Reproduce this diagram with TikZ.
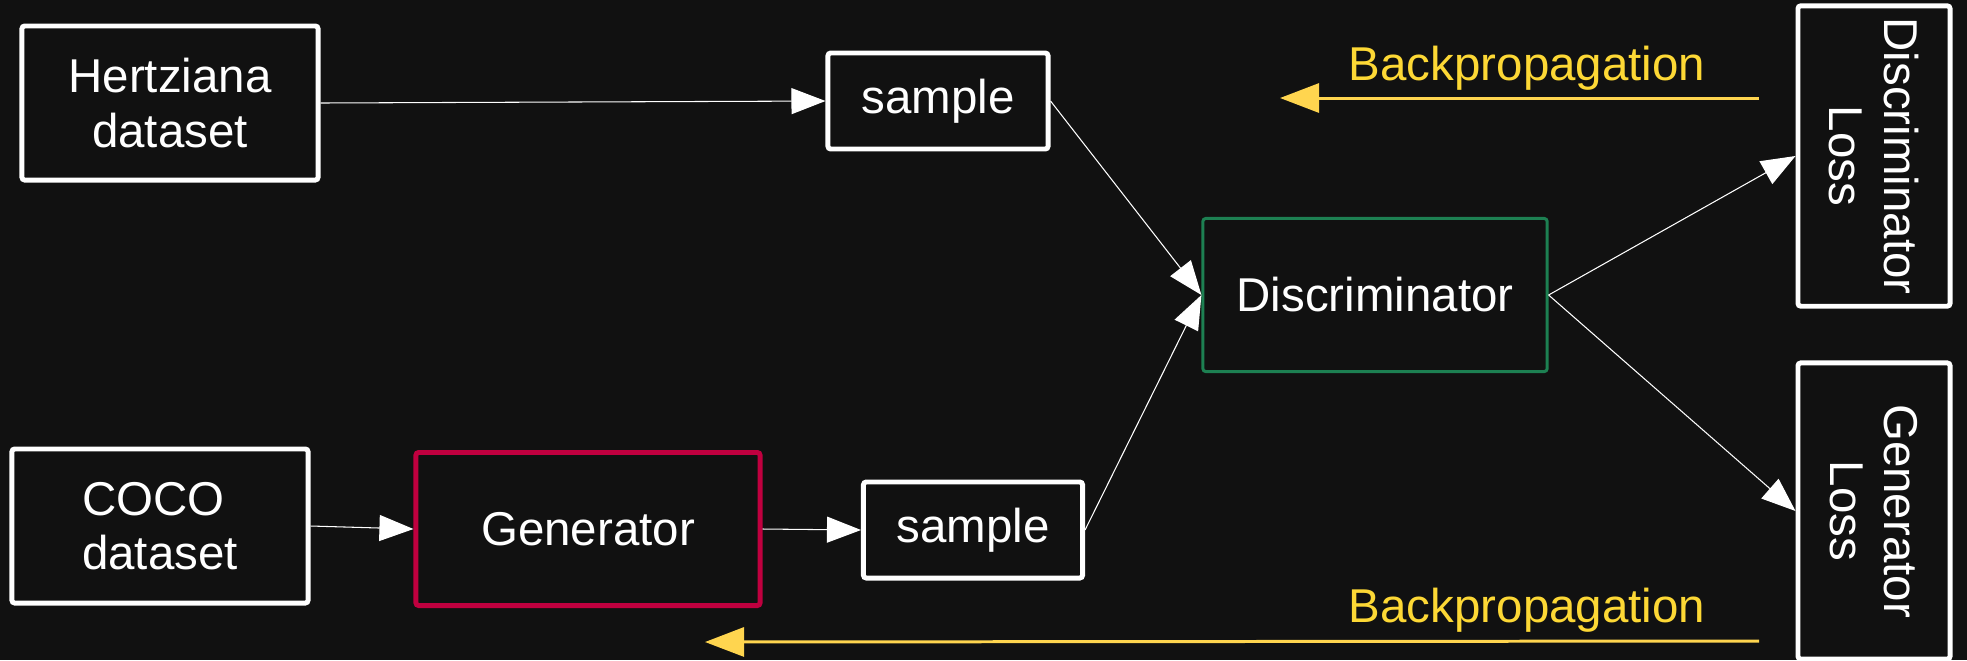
\documentclass[tikz,border=0pt]{standalone}
\usepackage{fontspec}
\setmainfont{Liberation Sans}
\usepackage{xcolor}
\usepackage{tikz}
\usetikzlibrary{arrows.meta}

\definecolor{bgdark}{HTML}{111111}
\definecolor{genred}{HTML}{C0003F}
\definecolor{discgreen}{HTML}{1D8052}
\definecolor{bpline}{HTML}{FFD54F}
\definecolor{bptext}{HTML}{FDD835}

\begin{document}
\begin{tikzpicture}[x=0.01cm,y=-0.01cm,
    font=\fontsize{13.5}{15.4}\selectfont,
    box/.style={draw=white,line width=1.4pt,rounded corners=0.8pt,text=white,align=center},
    flow/.style={white,line width=0.3pt,-{Triangle[length=0.34cm,width=0.26cm]}},
    backprop/.style={bpline,line width=0.85pt,-{Triangle[length=0.39cm,width=0.29cm]}}]
  \fill[bgdark] (0,0) rectangle (1967,660);
  \useasboundingbox (0,0) rectangle (1967,660);

  \node[box,minimum width=2.96cm,minimum height=1.54cm] (hertz) at (170,103) {Hertziana\\dataset};
  \node[box,align=left,minimum width=2.96cm,minimum height=1.54cm] (coco) at (160,526) {COCO\\dataset};
  \node[box,draw=genred,minimum width=3.44cm,minimum height=1.53cm] (gen) at (588,529) {Generator};
  \node[box,minimum width=2.2cm,minimum height=0.96cm] (sampA) at (938,101) {sample};
  \node[box,minimum width=2.19cm,minimum height=0.96cm] (sampB) at (973,530) {sample};
  \node[box,draw=discgreen,line width=0.85pt,minimum width=3.44cm,minimum height=1.53cm] (disc) at (1375,295) {Discriminator};
  \node[box,rotate=-90,minimum width=2.97cm,minimum height=1.52cm] (dloss) at (1874,156) {Discriminator\\Loss};
  \node[box,rotate=-90,minimum width=2.96cm,minimum height=1.52cm] (gloss) at (1874,511) {Generator\\Loss};

  \draw[flow] (hertz.east) -- (sampA.west);
  \draw[flow] (coco.east) -- (gen.west);
  \draw[flow] (gen.east) -- (sampB.west);
  \draw[flow] (sampA.east) -- (disc.west);
  \draw[flow] (sampB.east) -- (disc.west);
  \draw[flow] (disc.east) -- (dloss.south);
  \draw[flow] (disc.east) -- (gloss.south);

  \coordinate (bpDfrom) at (1759,98);
  \coordinate (bpDto) at (1280,98);
  \coordinate (bpGfrom) at (1759,641);
  \coordinate (bpGto) at (705,642);
  \draw[backprop] (bpDfrom) -- (bpDto);
  \draw[backprop] (bpGfrom) -- (bpGto);
  \node[text=bptext,anchor=base] (bpDlabel) at (1527,80) {Backpropagation};
  \node[text=bptext,anchor=base] (bpGlabel) at (1527,622) {Backpropagation};
\end{tikzpicture}
\end{document}
